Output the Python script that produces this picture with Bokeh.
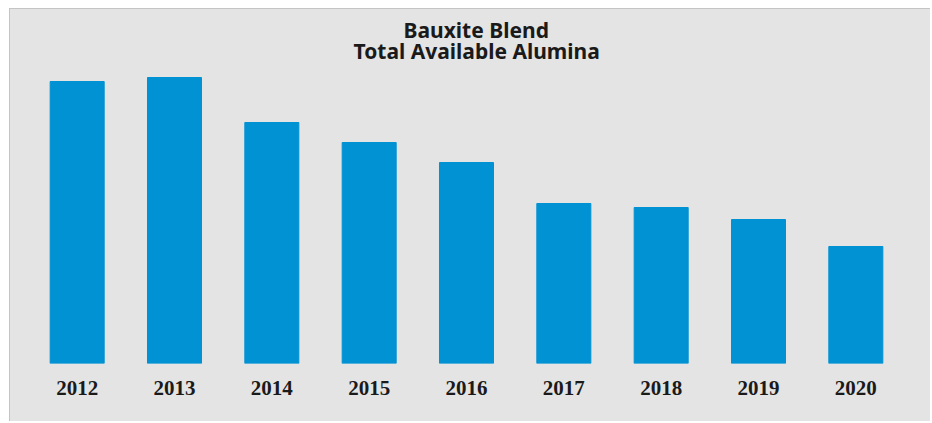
from bokeh.plotting import figure
from bokeh.models import Title, FactorRange, Range1d
from bokeh.embed import file_html
from bokeh.resources import INLINE

years = ["2012", "2013", "2014", "2015", "2016", "2017", "2018", "2019", "2020"]
alumina = [28.2, 28.6, 24.1, 22.1, 20.1, 16.0, 15.6, 14.4, 11.7]

title_line1 = "Bauxite Blend"
title_line2 = "Total Available Alumina"

BG = "#e4e4e4"
BAR = "#0092d3"

p = figure(
    x_range=FactorRange(*years, range_padding=0),
    y_range=Range1d(0, 29.3),
    width=921,
    height=413,
    output_backend="svg",
    toolbar_location=None,
    background_fill_color=BG,
    border_fill_color=BG,
    min_border_left=18,
    min_border_right=27,
    min_border_top=61,
    min_border_bottom=59,
)
p.title.visible = False

t2 = Title(text=title_line2, align="left", offset=325,
           text_font="Noto Sans", text_font_size="21px", text_font_style="bold",
           text_color="#1a1a1a", standoff=12)
t1 = Title(text=title_line1, align="left", offset=375,
           text_font="Noto Sans", text_font_size="21px", text_font_style="bold",
           text_color="#1a1a1a", standoff=-30)
p.add_layout(t2, "above")
p.add_layout(t1, "above")

p.vbar(x=years, top=alumina, width=0.555, color=BAR, line_color=BAR)

p.outline_line_color = None
p.xgrid.visible = False
p.ygrid.visible = False
p.yaxis.visible = False
xa = p.xaxis[0]
xa.axis_line_color = None
xa.major_tick_line_color = None
xa.minor_tick_line_color = None
xa.major_tick_in = 0
xa.major_tick_out = 0
xa.major_label_standoff = 17
xa.major_label_text_font = "Liberation Serif"
xa.major_label_text_font_style = "bold"
xa.major_label_text_font_size = "21px"
xa.major_label_text_color = "#1a1a1a"

p.styles = {"margin-left": "9px", "margin-top": "8px", "background-color": BG,
            "border-left": "1px solid #c4c4c4", "border-top": "1px solid #c4c4c4"}

open("out.html", "w").write(file_html(p, INLINE))
